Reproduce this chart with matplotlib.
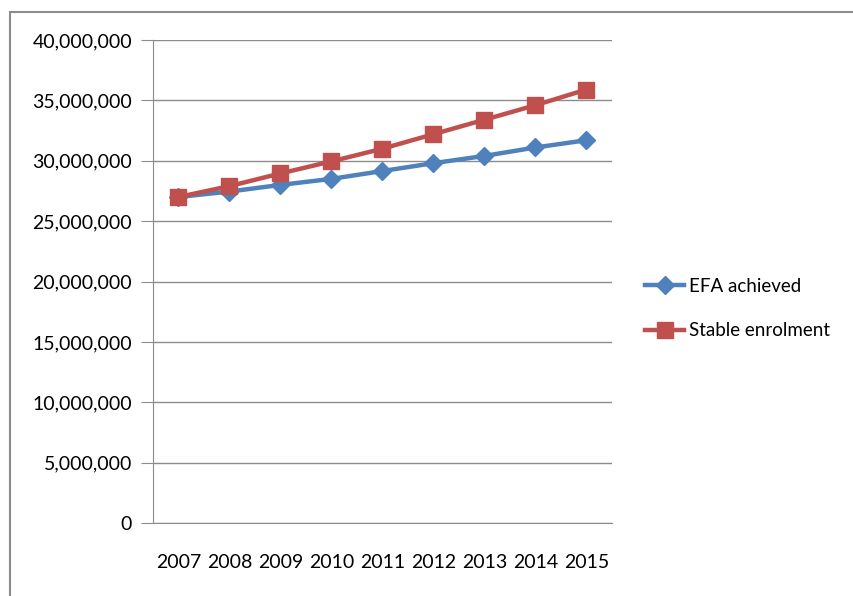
import matplotlib
matplotlib.use("Agg")
import matplotlib.pyplot as plt
from matplotlib.ticker import FuncFormatter, MultipleLocator
from matplotlib.patches import Rectangle

years = ["2007", "2008", "2009", "2010", "2011", "2012", "2013", "2014", "2015"]
efa_achieved = [27.0e6, 27.45e6, 28.0e6, 28.5e6, 29.15e6, 29.8e6, 30.4e6, 31.1e6, 31.7e6]
stable_enrolment = [27.0e6, 27.9e6, 28.95e6, 29.95e6, 31.0e6, 32.2e6, 33.4e6, 34.6e6, 35.9e6]

plt.rcParams['font.family'] = ['Lato', 'DejaVu Sans']

fig = plt.figure(figsize=(8.54, 5.96), dpi=100)
ax = fig.add_axes([153/854, 1-523/596, (612-153)/854, (523-40)/596])

x = list(range(len(years)))
ax.plot(x, efa_achieved, color="#4F81BD", lw=3.2, marker="D", markersize=9,
        label="EFA achieved", zorder=3)
ax.plot(x, stable_enrolment, color="#C0504D", lw=3.2, marker="s", markersize=11,
        label="Stable enrolment", zorder=4)

ax.set_xlim(-0.5, len(years)-0.5)
ax.set_ylim(0, 40e6)
ax.yaxis.set_major_locator(MultipleLocator(5e6))
ax.yaxis.set_major_formatter(FuncFormatter(lambda v, p: f"{int(v):,}"))
ax.set_xticks(x)
ax.set_xticklabels(years)
ax.grid(axis="y", color="#8C8C8C", lw=1)
ax.set_axisbelow(True)
for s in ["top", "right"]:
    ax.spines[s].set_visible(False)
ax.spines["left"].set_color("#8C8C8C")
ax.spines["bottom"].set_color("#8C8C8C")
ax.tick_params(axis="y", length=9, color="#8C8C8C", labelsize=14, pad=6)
ax.tick_params(axis="x", length=0, labelsize=14, pad=22)

leg = fig.legend(loc="upper left", bbox_to_anchor=(645/854, 1-278/596), frameon=False,
                 fontsize=13.5, handlelength=2.1, labelspacing=1.45, handletextpad=0.25,
                 borderpad=0, borderaxespad=0)

fig.patches.append(Rectangle((10/854, -0.1), 2, 1-12/596+0.1, transform=fig.transFigure,
                             fill=False, edgecolor="#8C8C8C", lw=1.5))

fig.savefig("out.png", dpi=100)
